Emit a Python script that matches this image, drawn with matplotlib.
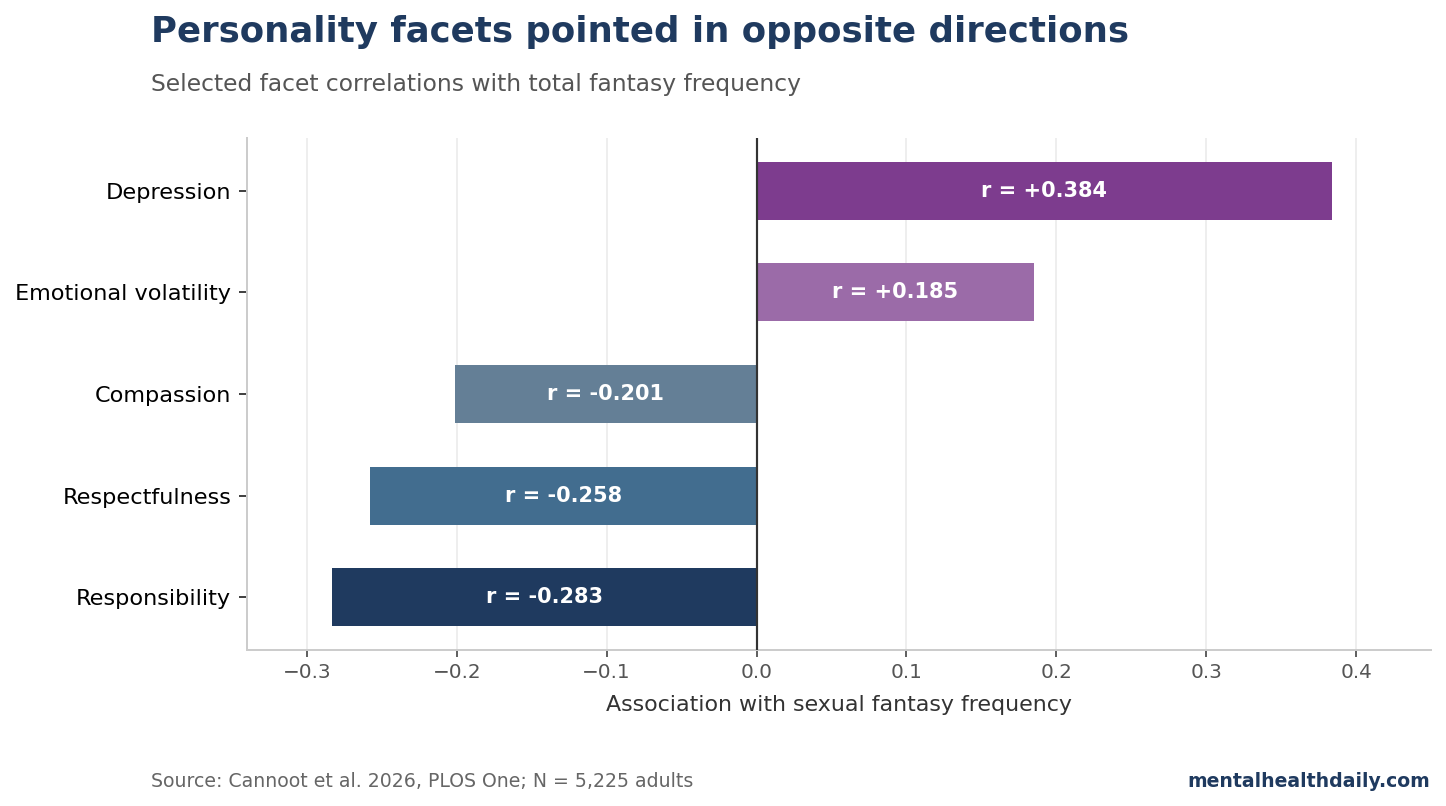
import matplotlib.pyplot as plt
import numpy as np

facets = ['Responsibility', 'Respectfulness', 'Compassion', 'Emotional volatility', 'Depression']
r_values = [-0.283, -0.258, -0.201, 0.185, 0.384]
bar_colors = ['#1f3a5f', '#426d8f', '#647f96', '#9b6ba8', '#7d3c8e']
x_ticks = [-0.3, -0.2, -0.1, 0.0, 0.1, 0.2, 0.3, 0.4]

fig = plt.figure(figsize=(1446/120, 806/120), dpi=120)
ax = fig.add_axes([0.1708, 0.1935, 0.8188, 0.6353])

y = np.arange(len(facets))
ax.barh(y, r_values, height=0.57, color=bar_colors, zorder=2)
ax.axvline(0, color='#333333', lw=1.3, zorder=3)

for yi, v in zip(y, r_values):
    ax.text(v/2, yi, f'r = {v:+.3f}', ha='center', va='center',
            color='white', fontsize=12.5, fontweight='bold', zorder=4)

ax.set_yticks(y)
ax.set_yticklabels(facets, fontsize=13.4, color='black')
ax.set_xticks(x_ticks)
ax.tick_params(axis='x', labelsize=12, labelcolor='#555555', color='#555555',
               length=4, width=1.1)
ax.tick_params(axis='y', color='#333333', length=5, width=1.1, pad=4.5)
ax.set_xlim(-0.34, 0.45)
ax.set_ylim(-0.52, 4.52)
ax.set_xlabel('Association with sexual fantasy frequency', fontsize=13.3,
              color='#333333', labelpad=8)

ax.grid(axis='x', color='#eeeeee', lw=1.2, zorder=0)
ax.set_axisbelow(True)
for s in ['top', 'right']:
    ax.spines[s].set_visible(False)
for s in ['left', 'bottom']:
    ax.spines[s].set_color('#cccccc')
    ax.spines[s].set_linewidth(1.2)

fig.text(0.1044, 0.982, 'Personality facets pointed in opposite directions',
         fontsize=21.3, fontweight='bold', color='#1f3a5f', va='top')
fig.text(0.1044, 0.909, 'Selected facet correlations with total fantasy frequency',
         fontsize=14, color='#555555', va='top')
fig.text(0.1044, 0.031, 'Source: Cannoot et al. 2026, PLOS One; N = 5,225 adults',
         fontsize=11.35, color='#666666', va='center')
fig.text(0.989, 0.031, 'mentalhealthdaily.com', fontsize=11.3, fontweight='bold',
         color='#1f3a5f', va='center', ha='right')

fig.savefig('out.png', dpi=120)
